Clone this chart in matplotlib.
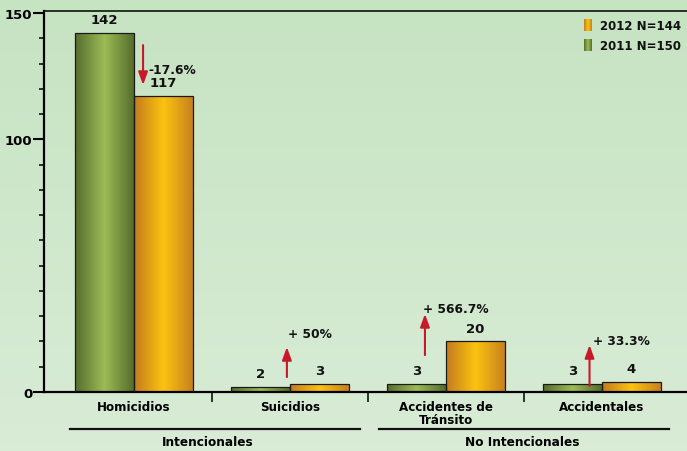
import numpy as np
import matplotlib
matplotlib.use("Agg")
import matplotlib.pyplot as plt
from matplotlib.colors import LinearSegmentedColormap

plt.rcParams['font.family'] = 'DejaVu Sans'
plt.rcParams['font.weight'] = 'bold'

# ---------------- data ----------------
categories = ['Homicidios', 'Suicidios', 'Accidentes de\nTránsito', 'Accidentales']
vals_2011 = [142, 2, 3, 3]
vals_2012 = [117, 3, 20, 4]
label_2011 = '2011 N=150'
label_2012 = '2012 N=144'
changes = ['-17.6%', '+ 50%', '+ 566.7%', '+ 33.3%']
groups = ['Intencionales', 'No Intencionales']

# arrow (x, y_tail, y_head) and text (x, y) in data units
arrows = [(0.058, 137.3, 121.5), (0.98, 5.9, 17.8), (1.865, 14.6, 30.9), (2.92, 2.4, 18.6)]
arrow_text = [(0.09, 127.8), (0.99, 23.0), (1.85, 33.2), (2.94, 20.2)]

green_cmap = LinearSegmentedColormap.from_list('g', ['#566e2c', '#9cbc55', '#566e2c'])
orange_cmap = LinearSegmentedColormap.from_list('o', ['#c47c1e', '#fcc310', '#c8821f'])
bg_cmap = LinearSegmentedColormap.from_list('bg', ['#d9ecd6', '#c6e3c2'])

W, H = 687, 452
fig = plt.figure(figsize=(W / 100, H / 100), dpi=100)

# background gradient
bg = fig.add_axes([0, 0, 1, 1], zorder=-10)
bg.imshow(np.linspace(0, 1, 100).reshape(-1, 1), aspect='auto', cmap=bg_cmap, origin='lower')
bg.axis('off')

ax = fig.add_axes([44 / W, 1 - 393 / H, 1.0, 381 / H])
ax.patch.set_alpha(0)
x = np.arange(len(categories))
bw = 0.378
grad = np.linspace(0, 1, 64).reshape(1, -1)


def grad_bars(xs, vals, cmap):
    bars = ax.bar(xs, vals, bw, facecolor='none', edgecolor='#1a1a1a', linewidth=0.9, zorder=3)
    for b in bars:
        x0, y0 = b.get_x(), b.get_y()
        im = ax.imshow(grad, aspect='auto', cmap=cmap, zorder=2,
                       extent=[x0, x0 + b.get_width(), y0, y0 + b.get_height()])
        im.set_clip_path(b)
    return bars


b11 = grad_bars(x - bw / 2, vals_2011, green_cmap)
b12 = grad_bars(x + bw / 2, vals_2012, orange_cmap)

for bars, vals in ((b11, vals_2011), (b12, vals_2012)):
    for b, v in zip(bars, vals):
        ax.annotate(str(v), (b.get_x() + b.get_width() / 2, v), xytext=(0, 5),
                    textcoords='offset points', ha='center', va='bottom',
                    fontsize=9.5, fontweight='bold', color='#111111')

for (ax_x, yt, yh), (tx, ty), txt in zip(arrows, arrow_text, changes):
    ax.annotate('', xy=(ax_x, yh), xytext=(ax_x, yt),
                arrowprops=dict(arrowstyle='-|>,head_length=0.55,head_width=0.2',
                                color='#c8182a', lw=1.5,
                                mutation_scale=14, shrinkA=0, shrinkB=0))
    ax.text(tx, ty, txt, ha='left', va='center', fontsize=8.8, fontweight='bold', color='#111111')

ax.set_xlim(-0.577, -0.577 + W / 156)
ax.set_ylim(0, 150.8)
ax.set_autoscale_on(False)

# y axis
ax.set_yticks([0, 100, 150])
ax.set_yticklabels(['0', '100', '150'])
ax.set_yticks(np.arange(0, 151, 10), minor=True)
ax.tick_params(axis='y', which='major', length=8, width=1.5, pad=0.5, labelsize=9.5)
ax.tick_params(axis='y', which='minor', length=3.6, width=1.1)

# x axis
ax.set_xticks(x)
ax.set_xticklabels(categories, fontsize=8.6, fontweight='bold', linespacing=1.05)
ax.set_xticks([0.5, 1.5, 2.5], minor=True)
ax.tick_params(axis='x', which='major', length=0, pad=5.5)
ax.tick_params(axis='x', which='minor', length=7.2, width=1.1)

for s in ('left', 'bottom'):
    ax.spines[s].set_linewidth(1.6)
ax.spines['top'].set_linewidth(1.1)
ax.spines['right'].set_visible(False)

# group lines and labels
for (x0, x1, xc), g in zip([(-0.41, 1.449, 0.47), (1.57, 3.43, 2.49)], groups):
    ax.plot([x0, x1], [-0.097 * 150.8] * 2, color='#111111', lw=1.6, clip_on=False)
    ax.text(xc, -0.131 * 150.8, g, ha='center', va='center', fontsize=8.7, fontweight='bold',
            clip_on=False)

# legend
for i, (lab, cmap) in enumerate([(label_2012, orange_cmap), (label_2011, green_cmap)]):
    top = 20 + 20 * i
    lax = fig.add_axes([584 / W, 1 - (top + 12) / H, 8 / W, 12 / H])
    lax.imshow(grad, aspect='auto', cmap=cmap)
    lax.axis('off')
    fig.text(600 / W, 1 - (top + 6) / H, lab, ha='left', va='center', fontsize=8.5,
             fontweight='bold', color='#111111')

fig.savefig('out.png', dpi=100)
